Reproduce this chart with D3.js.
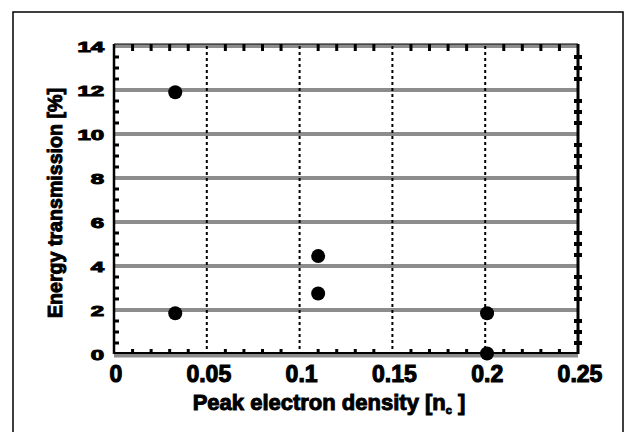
<!DOCTYPE html>
<html><head><meta charset="utf-8">
<script src="https://cdn.jsdelivr.net/npm/d3@7/dist/d3.min.js"></script>
<style>
html,body{margin:0;padding:0;background:#fff;}
svg{display:block;font-family:"Liberation Sans",Arial,sans-serif;}
</style></head>
<body><svg id="chart" width="632" height="432"></svg>
<script>
// Data
const densities = [0.033, 0.033, 0.110, 0.110, 0.201, 0.201];
const transmissions = [11.9, 1.85, 4.45, 2.75, 1.85, 0.02];
const xTickValues = [0, 0.05, 0.1, 0.15, 0.2, 0.25];
const xTickLabels = ["0", "0.05", "0.1", "0.15", "0.2", "0.25"];
const yTickValues = [0, 2, 4, 6, 8, 10, 12, 14];
const yTickLabels = ["0", "2", "4", "6", "8", "10", "12", "14"];
const xTitle = "Peak electron density [n";
const xTitleSub = "c";
const yTitle = "Energy  transmission [%]";

const svg = d3.select("#chart");
const x = d3.scaleLinear().domain([0, 0.25]).range([114, 578]);
const y = d3.scaleLinear().domain([0, 14]).range([354, 46]);

// outer frame
svg.append("rect").attr("x", 13).attr("y", 12).attr("width", 610).attr("height", 430)
  .attr("fill", "none").attr("stroke", "#000").attr("stroke-width", 1.5);

// horizontal gray grid lines
svg.append("g").selectAll("line").data(yTickValues).join("line")
  .attr("x1", x(0)).attr("x2", x(0.25))
  .attr("y1", d => y(d) + (d === 0 ? 1.5 : 0)).attr("y2", d => y(d) + (d === 0 ? 1.5 : 0))
  .attr("stroke", "#8c8c8c").attr("stroke-width", 4);

// vertical dotted grid lines
svg.append("g").selectAll("line").data(xTickValues.slice(1, -1)).join("line")
  .attr("x1", d => x(d)).attr("x2", d => x(d))
  .attr("y1", y(14)).attr("y2", y(0))
  .attr("stroke", "#000").attr("stroke-width", 2).attr("stroke-dasharray", "3,3");

// axis lines
svg.append("line").attr("x1", x(0)).attr("x2", x(0.25)).attr("y1", y(0) - 1).attr("y2", y(0) - 1)
  .attr("stroke", "#000").attr("stroke-width", 2);
svg.append("line").attr("x1", x(0)).attr("x2", x(0.25)).attr("y1", y(14) - 2).attr("y2", y(14) - 2)
  .attr("stroke", "#000").attr("stroke-width", 1);
svg.append("line").attr("x1", x(0)).attr("x2", x(0)).attr("y1", y(14) - 2).attr("y2", y(0))
  .attr("stroke", "#000").attr("stroke-width", 2.5);
svg.append("line").attr("x1", x(0.25)).attr("x2", x(0.25)).attr("y1", y(14) - 2).attr("y2", y(0))
  .attr("stroke", "#000").attr("stroke-width", 3);

// minor ticks
const xMinor = d3.range(1, 25).map(i => i / 100).filter(v => Math.round(v * 100) % 5 !== 0);
const yMinor = d3.range(1, 28).map(i => i / 2).filter(v => v % 2 !== 0);
svg.append("g").selectAll("line").data(xMinor).join("line")
  .attr("x1", d => x(d)).attr("x2", d => x(d)).attr("y1", y(0) - 1).attr("y2", y(0) - 5)
  .attr("stroke", "#000").attr("stroke-width", 3);
svg.append("g").selectAll("line").data(xMinor).join("line")
  .attr("x1", d => x(d)).attr("x2", d => x(d)).attr("y1", y(14) - 2).attr("y2", y(14) + 5)
  .attr("stroke", "#000").attr("stroke-width", 3);
svg.append("g").selectAll("line").data(yMinor).join("line")
  .attr("x1", x(0)).attr("x2", x(0) + 5).attr("y1", d => y(d)).attr("y2", d => y(d))
  .attr("stroke", "#000").attr("stroke-width", 3);
svg.append("g").selectAll("line").data(yMinor).join("line")
  .attr("x1", x(0.25) - 4).attr("x2", x(0.25) + 4).attr("y1", d => y(d)).attr("y2", d => y(d))
  .attr("stroke", "#000").attr("stroke-width", 4);

// tick labels
svg.append("g").selectAll("text").data(xTickValues).join("text")
  .attr("x", d => x(d) + 2).attr("y", 382)
  .attr("text-anchor", "middle").attr("font-size", 23).attr("font-weight", "bold")
  .attr("stroke", "#000").attr("stroke-width", 1.1)
  .text((d, i) => xTickLabels[i]);
svg.append("g").selectAll("text").data(yTickValues).join("text")
  .attr("transform", d => `translate(104,${y(d) + 5.5}) scale(1.65,1)`)
  .attr("text-anchor", "end").attr("font-size", 14.5).attr("font-weight", "bold")
  .attr("stroke", "#000").attr("stroke-width", 1)
  .text((d, i) => yTickLabels[i]);

// axis titles
const xt = svg.append("text").attr("x", 329).attr("y", 410).attr("text-anchor", "middle")
  .attr("font-size", 22).attr("font-weight", "bold").attr("stroke", "#000").attr("stroke-width", 1);
xt.append("tspan").text(xTitle);
xt.append("tspan").attr("font-size", 11).attr("dy", 4).text(xTitleSub);
xt.append("tspan").attr("dy", -4).text(" ]");

svg.append("text").attr("transform", "translate(62,203) rotate(-90)")
  .attr("text-anchor", "middle").attr("font-size", 21).attr("font-weight", "bold")
  .attr("stroke", "#000").attr("stroke-width", 1)
  .attr("textLength", 230).attr("lengthAdjust", "spacingAndGlyphs")
  .text(yTitle);

// points
svg.append("g").selectAll("circle").data(densities).join("circle")
  .attr("cx", d => x(d)).attr("cy", (d, i) => y(transmissions[i]))
  .attr("r", 7).attr("fill", "#000");
</script></body></html>
